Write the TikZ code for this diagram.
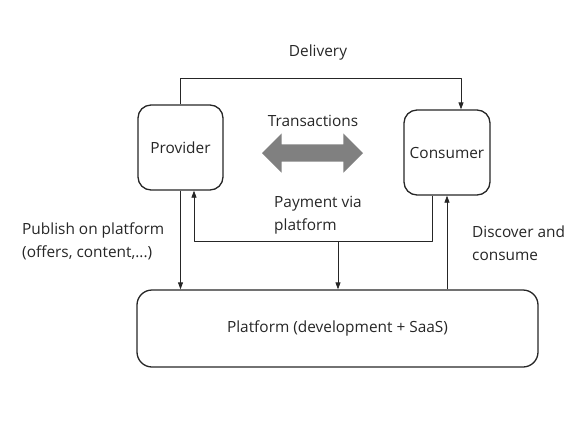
\documentclass[tikz,border=0pt]{standalone}
\usepackage{fontspec}
\setmainfont{Open Sans}
\usetikzlibrary{arrows.meta,shapes.arrows}

\definecolor{ink}{HTML}{262626}
\definecolor{bigarrow}{HTML}{808080}

\begin{document}
\begin{tikzpicture}[x=1pt,y=-1pt,>={Triangle[length=7pt,width=5pt]},line join=round,
  box/.style={draw=ink,line width=1.3pt,rounded corners=13pt,inner sep=0pt,font=\fontsize{15.4}{18}\selectfont,text=ink},
  link/.style={->,line width=0.8pt,draw=black!85},
  lbl/.style={inner sep=0pt,align=left,font=\fontsize{15.4}{23}\selectfont,text=ink}]
\useasboundingbox (0,0) rectangle (579,424);
\node[box,minimum width=85pt,minimum height=85pt] (prov) at (180.5,147.5) {Provider};
\node[box,minimum width=86pt,minimum height=85pt] (cons) at (447,152.5) {Consumer};
\node[box,minimum width=401pt,minimum height=77pt,rounded corners=15pt] (plat) at (337.5,328.5) {Platform (development + SaaS)};
\coordinate (dtop) at (0,78);
\coordinate (pay) at (338,241);
\draw[link] (prov.north) |- ([xshift=14pt]cons.north |- dtop) -- ([xshift=14pt]cons.north);
\draw[link] (prov.south) -- (prov.south |- plat.north);
\draw[link] ([xshift=-15pt]cons.south) |- ([xshift=13.5pt]prov.south |- pay) -- ([xshift=13.5pt]prov.south);
\draw[link] (pay) -- (pay |- plat.north);
\draw[link] (cons.south |- plat.north) -- (cons.south);
\node[double arrow,fill=bigarrow,minimum height=101pt,double arrow head extend=11pt,inner xsep=0pt,inner ysep=8.5pt] (trans) at (312.5,153) {};
\node[lbl] (deliv) at (318,52) {Delivery};
\node[lbl] (translbl) at (313,121) {Transactions};
\node[lbl,anchor=west] (paylbl) at (274,215) {Payment via\\platform};
\node[lbl,anchor=west] (publbl) at (22,241) {Publish on platform\\(offers, content,...)};
\node[lbl,anchor=west] (disclbl) at (472,243) {Discover and\\consume};
\end{tikzpicture}
\end{document}
